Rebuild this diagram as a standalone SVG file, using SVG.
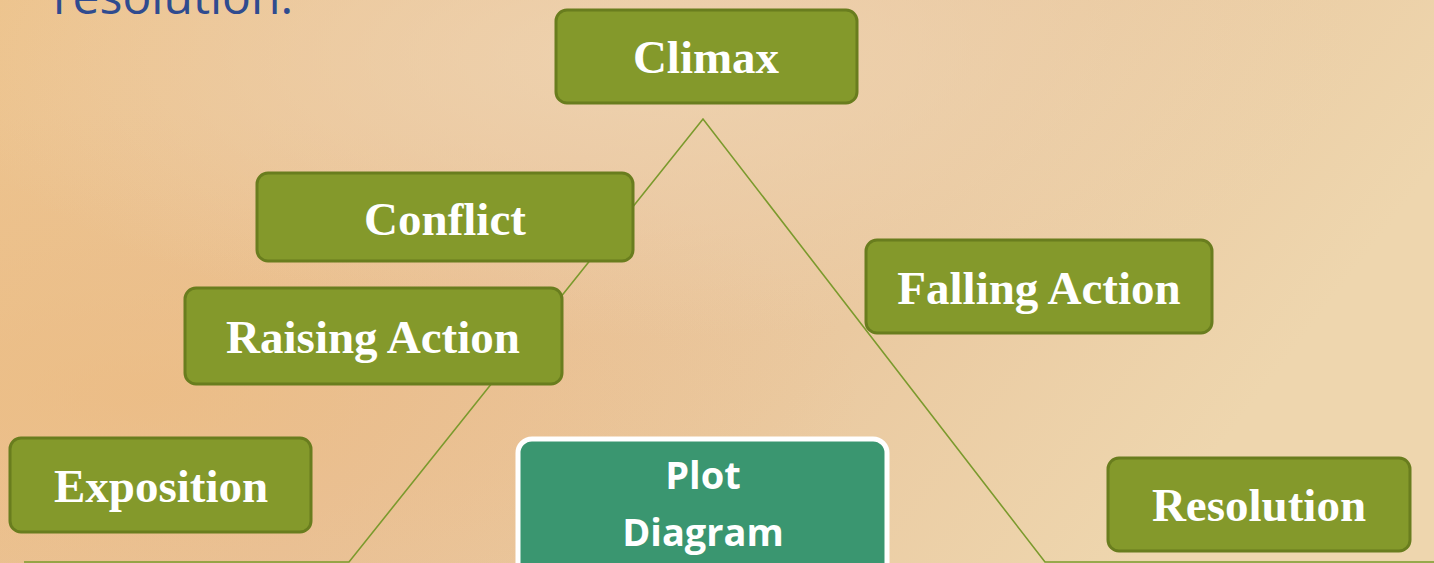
<svg xmlns="http://www.w3.org/2000/svg" width="1434" height="563" viewBox="0 0 1434 563">
<defs>
<linearGradient id="bg" x1="0" y1="0" x2="1" y2="0.3">
<stop offset="0" stop-color="#EDC38C"/>
<stop offset="0.45" stop-color="#E9C29A"/>
<stop offset="0.7" stop-color="#EAC9A0"/>
<stop offset="1" stop-color="#EED6AE"/>
</linearGradient>
<radialGradient id="glow" cx="0.45" cy="0.1" r="0.5">
<stop offset="0" stop-color="#EFD6B4" stop-opacity="0.8"/>
<stop offset="1" stop-color="#EFD6B4" stop-opacity="0"/>
</radialGradient>
<radialGradient id="warm" cx="0.1" cy="0.7" r="0.5">
<stop offset="0" stop-color="#ECBA7E" stop-opacity="0.6"/>
<stop offset="1" stop-color="#ECBA7E" stop-opacity="0"/>
</radialGradient>
</defs>
<style>
.box{fill:#84992B;stroke:#697D1E;stroke-width:3}
.lbl{fill:#FFFFFF;font-family:"Liberation Serif",serif;font-weight:bold;font-size:47px;text-anchor:middle}
.conn{fill:none;stroke:#7B9A2D;stroke-width:1.6}
.plot{fill:#3A9670;stroke:#FFFFFF;stroke-width:5}
.plbl{fill:#FFFFFF;font-family:"Open Sans",sans-serif;font-weight:bold;font-size:38px;text-anchor:middle}
</style>
<rect width="1434" height="563" fill="url(#bg)"/>
<rect width="1434" height="563" fill="url(#warm)"/>
<rect width="1434" height="563" fill="url(#glow)"/>
<text x="53" y="14" font-family="Open Sans, sans-serif" font-size="48" fill="#2F4B8F">resolution.</text>
<g id="connectors">
<polyline class="conn" points="24,562 349,562 703,119 1045,562 1434,562"/>
</g>
<g id="climax">
<rect class="box" x="556" y="10" width="301" height="93" rx="11"/>
<text class="lbl" x="706" y="73">Climax</text>
</g>
<g id="conflict">
<rect class="box" x="257" y="173" width="376" height="88" rx="11"/>
<text class="lbl" x="445" y="235">Conflict</text>
</g>
<g id="raising-action">
<rect class="box" x="185" y="288" width="377" height="96" rx="11"/>
<text class="lbl" x="373" y="353">Raising Action</text>
</g>
<g id="falling-action">
<rect class="box" x="866" y="240" width="346" height="93" rx="11"/>
<text class="lbl" x="1039" y="304">Falling Action</text>
</g>
<g id="exposition">
<rect class="box" x="10" y="438" width="301" height="94" rx="11"/>
<text class="lbl" x="161" y="502">Exposition</text>
</g>
<g id="resolution">
<rect class="box" x="1108" y="458" width="302" height="93" rx="11"/>
<text class="lbl" x="1259" y="521">Resolution</text>
</g>
<g id="plot-diagram">
<rect class="plot" x="518" y="439" width="369" height="140" rx="14"/>
<text class="plbl" x="703" y="489">Plot</text>
<text class="plbl" x="703" y="546">Diagram</text>
</g>
</svg>
